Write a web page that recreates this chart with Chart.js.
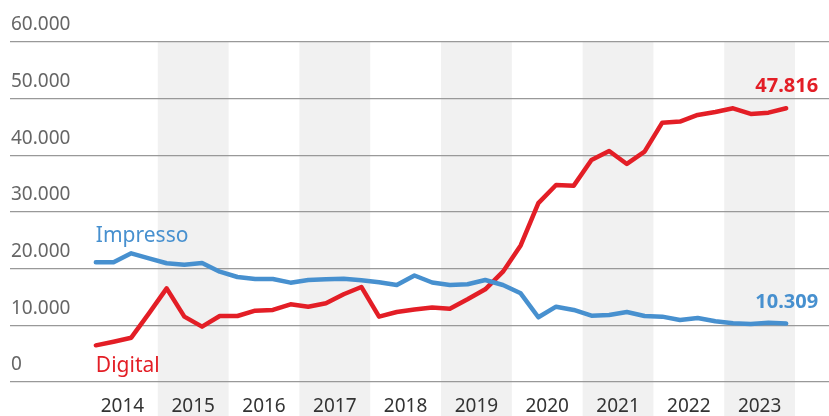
<!DOCTYPE html>
<html>
<head>
<meta charset="utf-8">
<script src="https://cdn.jsdelivr.net/npm/chart.js@4"></script>
<style>
  html, body { margin: 0; padding: 0; background: #fff; }
  #wrap { width: 829px; height: 416px; position: relative; }
</style>
</head>
<body>
<div id="wrap"><canvas id="c" width="829" height="416"></canvas></div>
<script>
// Quarterly data, 2014 Q1 .. 2023 Q4
const years = ['2014','2015','2016','2017','2018','2019','2020','2021','2022','2023'];
const yTicks = [0, 10000, 20000, 30000, 40000, 50000, 60000];
const impresso = [
  21130, 21130, 22710, 21830, 20950, 20710, 21000, 19470,
  18530, 18180, 18180, 17530, 18000, 18120, 18240, 17950,
  17600, 17120, 18800, 17560, 17120, 17240, 18000, 17120,
  15650, 11420, 13290, 12710, 11700, 11830, 12350, 11650,
  11530, 10940, 11300, 10710, 10360, 10240, 10470, 10309
];
const digital = [
  6470, 7110, 7820, 12120, 16530, 11530, 9770, 11650,
  11650, 12590, 12710, 13710, 13290, 13890, 15480, 16770,
  11540, 12350, 12790, 13150, 12940, 14600, 16360, 19470,
  24100, 31560, 34770, 34650, 39180, 40770, 38480, 40650,
  45770, 45950, 47130, 47660, 48300, 47300, 47530, 48300
];
const endImpressoLabel = '10.309';
const endDigitalLabel = '47.816';
const BLUE = '#4790cf';
const RED = '#e31e26';
const FONT = "'Noto Sans', 'Open Sans', sans-serif";

const quarters = impresso.map((_, i) => i + 0.5);
const fmt = v => v === 0 ? '0' : v.toLocaleString('de-DE');

const bandsPlugin = {
  id: 'bands',
  beforeDraw(chart) {
    const {ctx, scales: {x, y}} = chart;
    ctx.save();
    ctx.fillStyle = '#f1f1f1';
    const top = y.getPixelForValue(60000);
    for (let k = 1; k < years.length; k += 2) {
      const x0 = x.getPixelForValue(k * 4);
      const x1 = x.getPixelForValue(k * 4 + 4);
      ctx.fillRect(x0, top, x1 - x0, chart.height - top);
    }
    ctx.restore();
  }
};

const labelsPlugin = {
  id: 'seriesLabels',
  afterDatasetsDraw(chart) {
    const {ctx, scales: {x, y}} = chart;
    const n = quarters.length - 1;
    ctx.save();
    ctx.textBaseline = 'alphabetic';
    ctx.font = `21px ${FONT}`;
    ctx.textAlign = 'left';
    ctx.fillStyle = BLUE;
    ctx.fillText('Impresso', x.getPixelForValue(quarters[0]), y.getPixelForValue(impresso[0]) - 20);
    ctx.fillStyle = RED;
    ctx.fillText('Digital', x.getPixelForValue(quarters[0]), y.getPixelForValue(digital[0]) + 27);
    ctx.font = `bold 20px ${FONT}`;
    ctx.textAlign = 'right';
    ctx.fillStyle = RED;
    ctx.fillText(endDigitalLabel, x.getPixelForValue(quarters[n]) + 32, y.getPixelForValue(digital[n]) - 16);
    ctx.fillStyle = BLUE;
    ctx.fillText(endImpressoLabel, x.getPixelForValue(quarters[n]) + 32, y.getPixelForValue(impresso[n]) - 16);
    ctx.restore();
  }
};

new Chart(document.getElementById('c'), {
  type: 'line',
  data: {
    datasets: [
      { label: 'Impresso', data: quarters.map((q, i) => ({x: q, y: impresso[i]})),
        borderColor: BLUE, borderWidth: 4.5, pointRadius: 0, tension: 0,
        borderJoinStyle: 'round', borderCapStyle: 'round', fill: false },
      { label: 'Digital', data: quarters.map((q, i) => ({x: q, y: digital[i]})),
        borderColor: RED, borderWidth: 4.5, pointRadius: 0, tension: 0,
        borderJoinStyle: 'round', borderCapStyle: 'round', fill: false }
    ]
  },
  options: {
    responsive: false,
    animation: false,
    devicePixelRatio: 1,
    layout: { padding: { left: 10, right: 0, top: 42, bottom: 0 } },
    plugins: { legend: { display: false }, tooltip: { enabled: false } },
    scales: {
      x: {
        type: 'linear',
        min: -4.35,
        max: 41.92,
        grid: { display: false, drawTicks: false },
        border: { display: false },
        afterBuildTicks: s => { s.ticks = years.map((_, i) => ({ value: i * 4 + 2 })); },
        afterFit: s => { s.height = 34; },
        ticks: {
          autoSkip: false, maxRotation: 0, padding: 13,
          color: '#333', font: { family: FONT, size: 19 },
          callback: v => years[Math.round((v - 2) / 4)]
        }
      },
      y: {
        min: 0, max: 60000,
        afterBuildTicks: s => { s.ticks = yTicks.map(v => ({ value: v })); },
        afterFit: s => { s.width = 0; },
        grid: { color: '#999', lineWidth: 1.3, drawTicks: false },
        border: { display: false },
        ticks: {
          mirror: true, padding: 1, labelOffset: -17,
          color: '#666', font: { family: FONT, size: 19 },
          callback: v => fmt(v)
        }
      }
    }
  },
  plugins: [bandsPlugin, labelsPlugin]
});
</script>
</body>
</html>
